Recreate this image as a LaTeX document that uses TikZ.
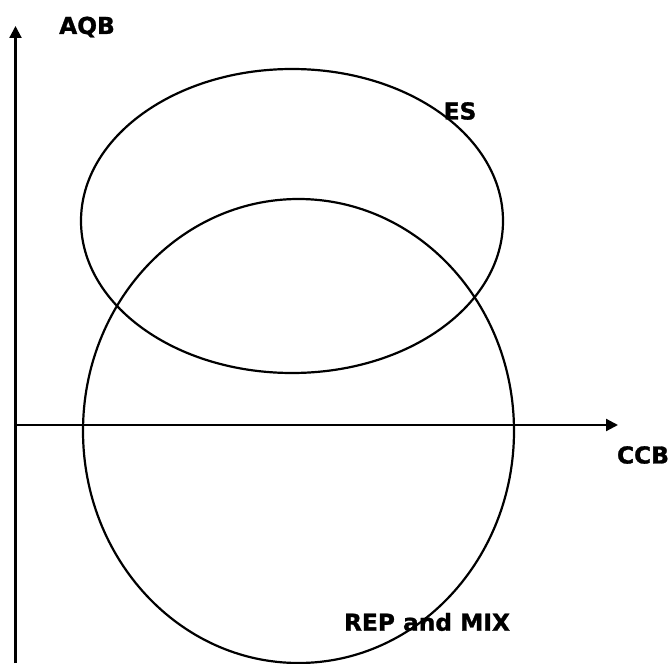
\documentclass[tikz,border=0pt]{standalone}
\usepackage{fontspec}
\setmainfont{DejaVu Sans}
\newfontfamily\lblfont{DejaVu Sans Bold}[FakeBold=1.2]
\usetikzlibrary{arrows.meta}
\tikzset{
  axis/.style={line width=2.2pt,-{Triangle[length=12pt,width=12pt]}},
  curve/.style={line width=2.2pt},
  lbl/.style={font=\lblfont\fontsize{23.3}{26}\selectfont,inner sep=0pt}
}
\begin{document}
\begin{tikzpicture}[x=1pt,y=-1pt]
\useasboundingbox (0,0) rectangle (671,663);
% axes
\coordinate (ybot) at (15.5,663);
\coordinate (ytop) at (15.5,26);
\coordinate (xl) at (16,425);
\coordinate (xr) at (618,425);
\draw[axis] (ybot) -- (ytop);
\draw[axis] (xl) -- (xr);
% regions
\draw[curve] (292,221) ellipse [x radius=211, y radius=152];
\draw[curve] (298.5,431) ellipse [x radius=215.5, y radius=232];
% labels
\node[lbl] (aqb) at (87,27) {AQB};
\node[lbl] (es) at (460,111) {ES};
\node[lbl] (ccb) at (643,455) {CCB};
\node[lbl] (rep) at (427,622) {REP and MIX};
\end{tikzpicture}
\end{document}
